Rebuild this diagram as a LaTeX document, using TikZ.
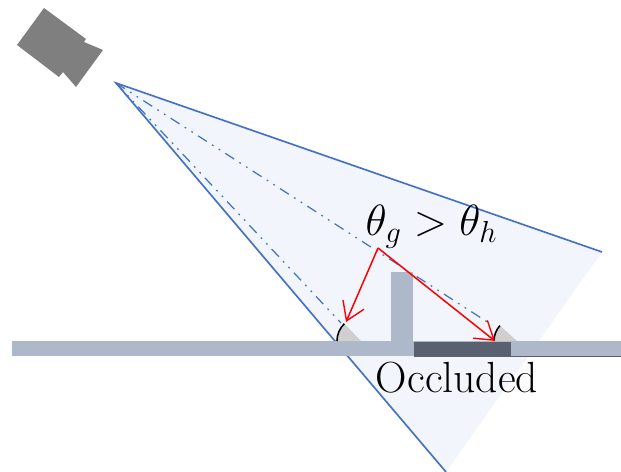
\documentclass[tikz,border=0pt]{standalone}
\usepackage{tikz}
\usetikzlibrary{arrows.meta}

\definecolor{frustumfill}{HTML}{F3F5FC}
\definecolor{frustumline}{HTML}{4472C4}
\definecolor{groundfill}{HTML}{ADB9CA}
\definecolor{occludedfill}{HTML}{596170}
\definecolor{wedgefill}{HTML}{D0CECE}
\definecolor{camerafill}{HTML}{7F7F7F}

\tikzset{
  ray/.style={frustumline, line width=0.95pt},
  midray/.style={frustumline, line width=0.7pt, dash pattern=on 6pt off 3.5pt on 1pt off 3.5pt on 1pt off 3.5pt},
  reflect/.style={red, line width=0.85pt, -{Straight Barb[length=10pt,width=13pt,line width=0.8pt]}},
  label/.style={inner sep=0pt}
}

\begin{document}
\begin{tikzpicture}[x=0.02cm, y=-0.02cm]
  \useasboundingbox (0,0) rectangle (621,472);

  % Key reference points of the view cone
  \coordinate (apex)       at (116,83);
  \coordinate (cone right) at (602,252);
  \coordinate (cone low)   at (446,472);
  \coordinate (hit left)   at (341,323);
  \coordinate (hit right)  at (492,325);
  \coordinate (bounce)     at (378,248);
  \coordinate (tip left)   at (346,322);
  \coordinate (tip right)  at (495,341);

  % Light cone
  \fill[frustumfill] (apex) -- (cone right) -- (cone low) -- cycle;
  \draw[ray] (cone right) -- (apex) -- (cone low);
  \draw[midray] (apex) -- (hit left);
  \draw[midray] (apex) -- (hit right);

  % Camera body and lens
  \fill[camerafill] (44,8) -- (86,39) -- (84,42) -- (103,50) -- (76,87)
    -- (63,72) -- (59,77) -- (17,45) -- cycle;

  % Ground, wall and the occluded strip
  \fill[groundfill] (12,341) rectangle (621,356);
  \fill[groundfill] (391,272) rectangle (413,341);
  \fill[occludedfill] (414,342) rectangle (511,357);
  \fill[occludedfill] (511,356) rectangle (621,357);

  % Angle wedges, centred on the ground line
  \fill[wedgefill] (361,341) -- (337,341) arc[start angle=180, end angle=226, radius=24] -- cycle;
  \draw[line width=0.9pt] (337,341) arc[start angle=180, end angle=226, radius=24];
  \fill[wedgefill] (517,341) -- (494,341) arc[start angle=180, end angle=222, radius=23] -- cycle;
  \draw[line width=0.9pt] (494,341) arc[start angle=180, end angle=222, radius=23];

  % Reflected rays
  \draw[reflect] (bounce) -- (tip left);
  \draw[reflect] (bounce) -- (tip right);

  % Labels
  \node[label, font=\fontsize{26.4}{30}\selectfont] (angles) at (431.5,227) {$\theta_g > \theta_h$};
  \node[label, font=\fontsize{24.8}{28}\selectfont] (occluded) at (457,378) {Occluded};
\end{tikzpicture}
\end{document}
